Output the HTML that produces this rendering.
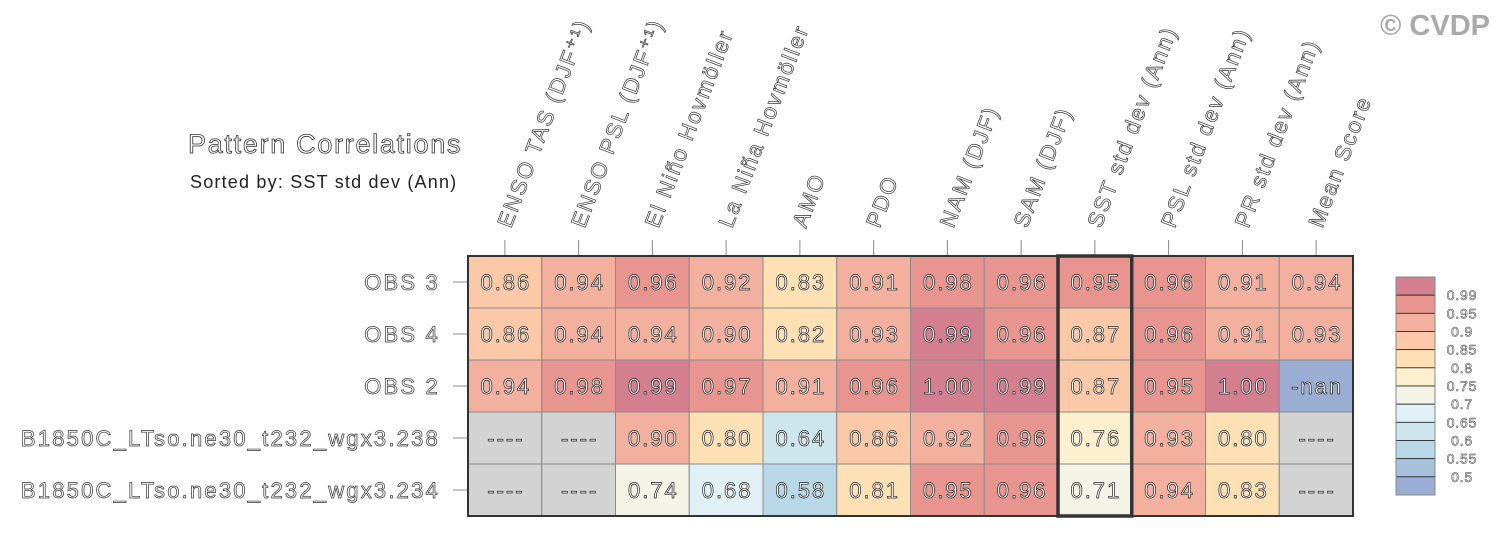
<!DOCTYPE html>
<html><head><meta charset="utf-8">
<style>
html,body{margin:0;padding:0;background:#fff;}
svg{display:block;font-family:"Liberation Sans",sans-serif;}
</style></head>
<body>
<svg id="chart" width="1499" height="539" xmlns="http://www.w3.org/2000/svg">
<text x="1490" y="35" text-anchor="end" font-size="29" font-weight="bold" fill="#aaaaaa">© CVDP</text>
<text x="188" y="153" font-size="27" letter-spacing="1.7" fill="#fff" stroke="#333" stroke-width="0.8">Pattern Correlations</text>
<text x="190" y="188" font-size="18" letter-spacing="1.2" fill="#222">Sorted by: SST std dev (Ann)</text>
<g id="grid"></g>
<g id="cbar"></g>
</svg>
<script>
const columns = ["ENSO TAS (DJF⁺¹)","ENSO PSL (DJF⁺¹)","El Niño Hovmöller","La Niña Hovmöller","AMO","PDO","NAM (DJF)","SAM (DJF)","SST std dev (Ann)","PSL std dev (Ann)","PR std dev (Ann)","Mean Score"];
const rows = ["OBS 3","OBS 4","OBS 2","B1850C_LTso.ne30_t232_wgx3.238","B1850C_LTso.ne30_t232_wgx3.234"];
const row0 = [0.86,0.94,0.96,0.92,0.83,0.91,0.98,0.96,0.95,0.96,0.91,0.94];
const row1 = [0.86,0.94,0.94,0.90,0.82,0.93,0.99,0.96,0.87,0.96,0.91,0.93];
const row2 = [0.94,0.98,0.99,0.97,0.91,0.96,1.00,0.99,0.87,0.95,1.00,NaN];
const row3 = [null,null,0.90,0.80,0.64,0.86,0.92,0.96,0.76,0.93,0.80,null];
const row4 = [null,null,0.74,0.68,0.58,0.81,0.95,0.96,0.71,0.94,0.83,null];
const cbarLevels = [0.99,0.95,0.9,0.85,0.8,0.75,0.7,0.65,0.6,0.55,0.5];
const cbarColors = ["#d47f90","#e89590","#f3b09e","#fbc9a8","#fde0b4","#fdf0cf","#f3f3e8","#e1f0f4","#cde6ee","#b8d8e8","#a5c1dc","#9aaed4"];
const sortedCol = 8;

const NS="http://www.w3.org/2000/svg";
const X0=468,X1=1353,Y0=256,Y1=516;
const cw=(X1-X0)/columns.length, rh=(Y1-Y0)/rows.length;
const xAt=i=>X0+i*cw, yAt=j=>Y0+j*rh;
function colorFor(v){
  if(v===null) return "#d3d3d3";
  if(isNaN(v)) return cbarColors[cbarColors.length-1];
  for(let k=0;k<cbarLevels.length;k++){ if(v>=cbarLevels[k]) return cbarColors[k]; }
  return cbarColors[cbarColors.length-1];
}
function mk(tag,attrs,parent){const e=document.createElementNS(NS,tag);for(const k in attrs)e.setAttribute(k,attrs[k]);parent.appendChild(e);return e;}
const g=document.getElementById('grid');
const data=[row0,row1,row2,row3,row4];
data.forEach((r,j)=>{
  r.forEach((v,i)=>{
    const rect=mk('rect',{x:xAt(i),y:yAt(j),width:cw,height:rh,fill:colorFor(v),stroke:"#8a8a8a","stroke-width":1},g);
    
    
    const t=mk('text',{x:xAt(i)+cw/2+1,y:yAt(j)+rh/2+8,"text-anchor":"middle","font-size":22,"letter-spacing":2,fill:"#fff",stroke:"#222","stroke-width":0.7},g);
    t.textContent = v===null?"----":(isNaN(v)?"-nan":v.toFixed(2));
    
    
  });
});
rows.forEach((name,j)=>{
  const cy=yAt(j)+rh/2;
  mk('line',{x1:453,x2:X0,y1:cy,y2:cy,stroke:"#888","stroke-width":1},g);
  const t=mk('text',{x:440,y:cy+8,"text-anchor":"end","font-size":22,"letter-spacing":2.2,fill:"#fff",stroke:"#333","stroke-width":0.7},g);
  t.textContent=name;
  
  
});
columns.forEach((name,i)=>{
  const cx=xAt(i)+cw/2;
  mk('line',{x1:cx,x2:cx,y1:240,y2:Y0,stroke:"#888","stroke-width":1},g);
  const t=mk('text',{x:0,y:0,transform:`translate(${cx+6},${229}) rotate(-69)`,"font-size":22,"letter-spacing":2,fill:"#fff",stroke:"#333","stroke-width":0.7},g);
  t.textContent=name;
  
  
});
mk('rect',{x:X0,y:Y0,width:X1-X0,height:Y1-Y0,fill:"none",stroke:"#333","stroke-width":2},g);
const hl=mk('rect',{x:xAt(sortedCol),y:Y0,width:cw,height:Y1-Y0,fill:"none",stroke:"#333","stroke-width":3.5},g);


const cb=document.getElementById('cbar');
const CBX=1396,CBY=277,CBW=39,CBH=218;
const bh=CBH/cbarColors.length;
cbarColors.forEach((c,k)=>{
  const r=mk('rect',{x:CBX,y:CBY+k*bh,width:CBW,height:bh,fill:c,stroke:"#222","stroke-width":0.8},cb);
  
  
});
mk('rect',{x:CBX,y:CBY,width:CBW,height:CBH,fill:"none",stroke:"#888","stroke-width":1},cb);
cbarLevels.forEach((lv,k)=>{
  const t=mk('text',{x:1462,y:CBY+(k+1)*bh+5,"text-anchor":"middle","font-size":14,"letter-spacing":0.8,fill:"#fff",stroke:"#333","stroke-width":0.5},cb);
  t.textContent=String(lv);
  
  
});
</script>
</body></html>
